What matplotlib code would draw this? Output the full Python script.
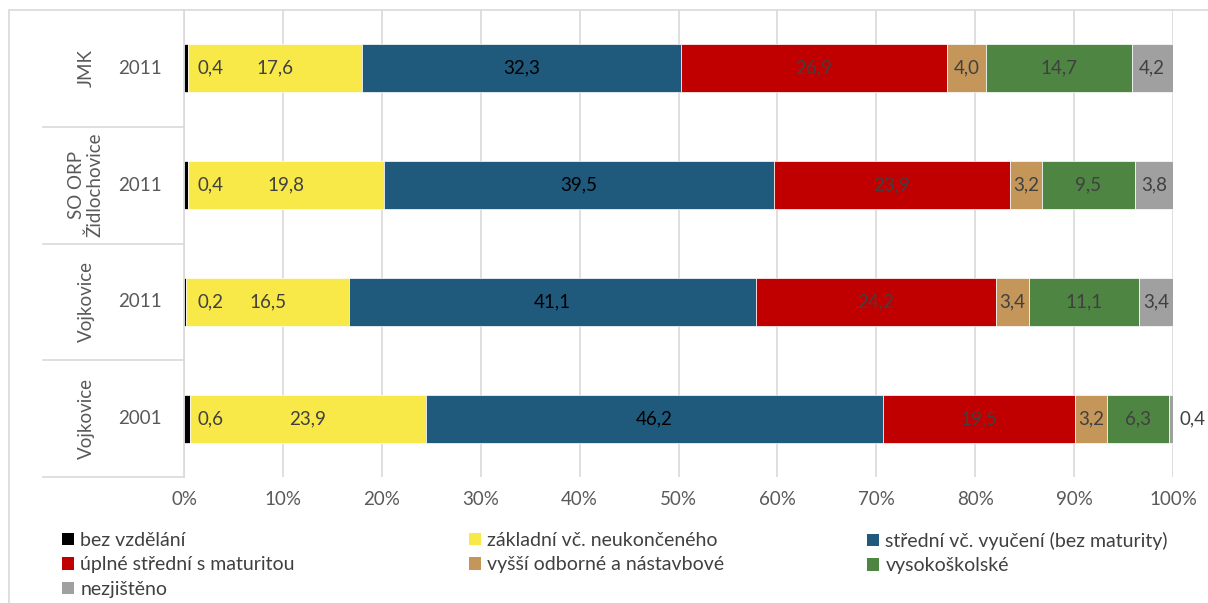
import matplotlib
matplotlib.use("Agg")
import matplotlib.pyplot as plt
from matplotlib.patches import Rectangle, Patch
import numpy as np

plt.rcParams['font.family'] = ['Lato', 'DejaVu Sans']

groups = ["JMK", "SO ORP\nŽidlochovice", "Vojkovice", "Vojkovice"]
years = ["2011", "2011", "2011", "2001"]
series = ["bez vzdělání", "základní vč. neukončeného", "střední vč. vyučení (bez maturity)",
          "úplné střední s maturitou", "vyšší odborné a nástavbové", "vysokoškolské", "nezjištěno"]
values = [
    [0.4, 17.6, 32.3, 26.9, 4.0, 14.7, 4.2],
    [0.4, 19.8, 39.5, 23.9, 3.2, 9.5, 3.8],
    [0.2, 16.5, 41.1, 24.2, 3.4, 11.1, 3.4],
    [0.6, 23.9, 46.2, 19.5, 3.2, 6.3, 0.4],
]
colors = ["#000000", "#F8E848", "#1F5A7C", "#C00000", "#C4965A", "#4E8542", "#A0A0A0"]

W, H = 1208, 603
fig = plt.figure(figsize=(W / 100, H / 100), dpi=100)
x0, x1, yt, yb = 184, 1173, 10, 477
ax = fig.add_axes([x0 / W, 1 - yb / H, (x1 - x0) / W, (yb - yt) / H])

vals = np.array(values)
pct = vals / vals.sum(axis=1, keepdims=True) * 100
n = len(groups)
ypos = np.arange(n)
left = np.zeros(n)
handles = []
for j, s in enumerate(series):
    ax.barh(ypos, pct[:, j], left=left, height=0.41, color=colors[j],
            edgecolor="white", linewidth=0.5, label=s, zorder=3)
    handles.append(Patch(facecolor=colors[j], label=s))
    for i in range(n):
        w = pct[i, j]
        c = left[i] + w / 2
        txt = f"{vals[i, j]:.1f}".replace(".", ",")
        if j == 0:
            xt = left[i] + 2.7
        elif j == 6 and w < 1.5:
            xt = left[i] + w + 2.0
        else:
            xt = c
        ax.text(xt, ypos[i], txt, ha="center", va="center", fontsize=13.5,
                color=("#000000" if j == 2 else "#404040"), zorder=4)
    left += pct[:, j]

ax.set_xlim(0, 100)
ax.set_ylim(n - 0.5, -0.5)
ax.set_xticks(np.arange(0, 101, 10))
ax.set_xticklabels([f"{t}%" for t in range(0, 101, 10)], fontsize=13.5, color="#595959")
ax.set_yticks([])
ax.tick_params(axis="x", length=0, pad=10)
ax.grid(axis="x", color="#D9D9D9", linewidth=1.2, zorder=0)
for sp in ["top", "right", "bottom"]:
    ax.spines[sp].set_visible(False)
ax.spines["left"].set_color("#D9D9D9")
ax.spines["left"].set_linewidth(1.2)

# category axis: years and groups
tr = ax.get_yaxis_transform()
yr_x = (140 - x0) / (x1 - x0)
gr_x = (86 - x0) / (x1 - x0)
sep_x = (43 - x0) / (x1 - x0)
for i in range(n):
    ax.text(yr_x, ypos[i], years[i], transform=tr, ha="center", va="center",
            fontsize=13.5, color="#595959")
    ax.text(gr_x, ypos[i], groups[i], transform=tr, ha="center", va="center",
            fontsize=13.5, color="#595959", rotation=90, linespacing=1.1)
for b in np.arange(0.5, n + 0.5, 1.0):
    ax.plot([sep_x, 0], [b, b], transform=tr, color="#D9D9D9", linewidth=1.2, clip_on=False)

# chart frame
fig.patches.append(Rectangle((9 / W, -0.1), 1.2, 1.1 - 10 / H, transform=fig.transFigure,
                             fill=False, edgecolor="#D9D9D9", linewidth=1.2))

# legend: three columns, filled row by row
cols = [[0, 3, 6], [1, 4], [2, 5]]
col_x = [62, 469, 867]
for cx, idx in zip(col_x, cols):
    leg = fig.legend([handles[k] for k in idx], [series[k] for k in idx], ncol=1,
                     loc="upper left", bbox_to_anchor=(cx / W, 1 - 532 / H),
                     frameon=False, fontsize=14, handlelength=0.6,
                     handleheight=0.6, handletextpad=0.35, labelspacing=0.38,
                     borderaxespad=0, borderpad=0)
    for t in leg.get_texts():
        t.set_color("#404040")

fig.savefig("out.png", dpi=100)
